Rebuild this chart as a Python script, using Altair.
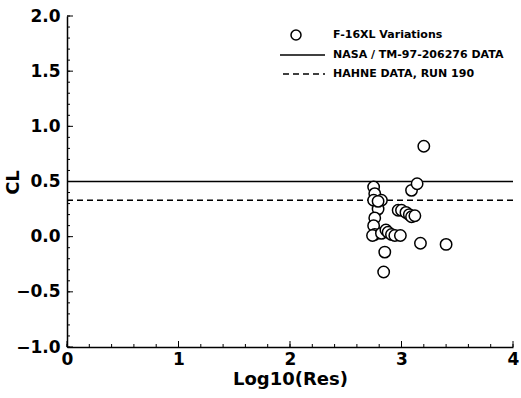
import altair as alt
import pandas as pd

# F-16XL lift coefficient vs log10 of residual
log_res = [2.75, 2.76, 2.75, 2.82, 2.79, 2.79, 2.76, 2.75, 2.76, 2.74,
           2.82, 2.86, 2.88, 2.91, 2.94, 2.99, 2.85, 2.84, 2.97, 3.00,
           3.04, 3.07, 3.09, 3.12, 3.09, 3.14, 3.20, 3.17, 3.40]
cl = [0.45, 0.39, 0.33, 0.33, 0.25, 0.32, 0.17, 0.10, 0.02, 0.01,
      0.03, 0.06, 0.04, 0.02, 0.01, 0.01, -0.14, -0.32, 0.24, 0.24,
      0.22, 0.20, 0.18, 0.19, 0.42, 0.48, 0.82, -0.06, -0.07]

# Reference lift coefficients
ref_names = ["NASA / TM-97-206276 DATA", "HAHNE DATA, RUN 190"]
ref_cl = [0.5, 0.33]

x_major = [0, 1, 2, 3, 4]
x_minor = [i * 0.2 for i in range(21)]
y_major = [-1.0, -0.5, 0.0, 0.5, 1.0, 1.5, 2.0]
y_minor = [round(-1.0 + i * 0.1, 2) for i in range(31)]

W, H = 446, 331
FONT = "DejaVu Sans"

pts = pd.DataFrame({"x": log_res, "y": cl})
refs = pd.DataFrame({"name": ref_names, "y": ref_cl})

xs = alt.Scale(domain=[0, 4], nice=False, zero=False)
ys = alt.Scale(domain=[-1, 2], nice=False, zero=False)

x_axis = alt.Axis(values=x_major, format="d", title="Log10(Res)", ticks=False, grid=False,
                  domainColor="black", domainWidth=1.5, labelFont=FONT, labelFontSize=17,
                  labelFontWeight="bold", labelColor="black", labelPadding=4,
                  titleFont=FONT, titleFontSize=18, titleFontWeight="bold",
                  titleColor="black", titlePadding=3, labelFlush=False)
y_axis = alt.Axis(values=y_major, format=".1f", title="CL", ticks=False, grid=False,
                  domainColor="black", domainWidth=1.5, labelFont=FONT, labelFontSize=17,
                  labelFontWeight="bold", labelColor="black", labelPadding=7,
                  titleFont=FONT, titleFontSize=18, titleFontWeight="bold",
                  titleColor="black", titleX=-45, titleY=166, labelFlush=False)

points = alt.Chart(pts).mark_point(
    shape="circle", filled=True, fill="white", stroke="black", strokeWidth=1.5,
    size=130, opacity=1
).encode(x=alt.X("x:Q", scale=xs, axis=x_axis), y=alt.Y("y:Q", scale=ys, axis=y_axis))

solid = alt.Chart(refs.iloc[[0]]).mark_rule(color="black", strokeWidth=1.5).encode(
    y=alt.Y("y:Q", scale=ys))
dashed = alt.Chart(refs.iloc[[1]]).mark_rule(color="black", strokeWidth=1.5,
                                             strokeDash=[6, 4]).encode(
    y=alt.Y("y:Q", scale=ys))

# Inward tick marks
def x_ticks(vals, length):
    return alt.Chart(pd.DataFrame({"v": vals})).mark_rule(color="black", strokeWidth=1).encode(
        x=alt.X("v:Q", scale=xs), y=alt.value(H), y2=alt.value(H - length))

def y_ticks(vals, length):
    return alt.Chart(pd.DataFrame({"v": vals})).mark_rule(color="black", strokeWidth=1).encode(
        y=alt.Y("v:Q", scale=ys), x=alt.value(0), x2=alt.value(length))

# Legend
leg_text = alt.Chart(pd.DataFrame({"t": ["F-16XL Variations"] + ref_names,
                                   "yy": [19, 39, 58]})).mark_text(
    align="left", baseline="middle", font=FONT, fontSize=11, fontWeight="bold", color="black"
).encode(x=alt.value(266), y=alt.Y("yy:Q", scale=None), text="t:N")
leg_circle = alt.Chart(pd.DataFrame({"a": [0]})).mark_point(
    shape="circle", filled=True, fill="white", stroke="black", strokeWidth=1.5, size=100, opacity=1
).encode(x=alt.value(229), y=alt.value(19))
leg_solid = alt.Chart(pd.DataFrame({"a": [0]})).mark_rule(color="black", strokeWidth=1.5).encode(
    x=alt.value(213), x2=alt.value(258), y=alt.value(39))
leg_dash = alt.Chart(pd.DataFrame({"a": [0]})).mark_rule(
    color="black", strokeWidth=1.5, strokeDash=[6, 4]).encode(
    x=alt.value(216), x2=alt.value(258), y=alt.value(58))

chart = alt.layer(
    solid, dashed,
    x_ticks(x_minor, 3), x_ticks(x_major, 6), y_ticks(y_minor, 3), y_ticks(y_major, 6),
    points, leg_circle, leg_solid, leg_dash, leg_text
).properties(
    width=W, height=H,
    autosize=alt.AutoSizeParams(type="none"),
    padding={"left": 67, "top": 16, "right": 8, "bottom": 51},
    background="white"
).configure_view(stroke=None)

chart.save("out.html", embed_options={"renderer": "svg", "actions": False})
